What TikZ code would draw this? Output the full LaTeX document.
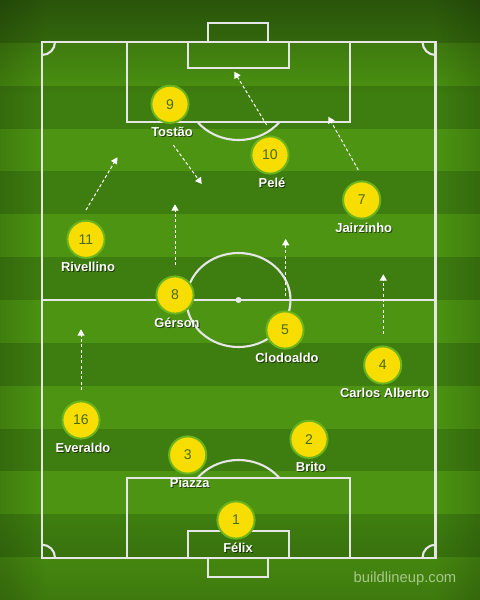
\documentclass[tikz,border=0pt]{standalone}
\usepackage{fontspec}
\setmainfont{Liberation Sans}
\usetikzlibrary{arrows.meta,fadings}

\definecolor{stripedark}{HTML}{3E7D10}
\definecolor{stripelight}{HTML}{4C9412}
\definecolor{pitchline}{HTML}{E6E6E6}
\definecolor{shirt}{HTML}{F7DE00}
\definecolor{shirtrim}{HTML}{6CB41E}
\definecolor{shirtnum}{HTML}{4A6A0A}
\definecolor{mark}{HTML}{A8C888}

\tikzset{
	pitch/.style={draw=pitchline, line width=1.5pt},
	player/.style={circle, fill=shirt, draw=shirtrim, line width=1.4pt,
		minimum size=0.93cm, inner sep=0pt, text=shirtnum, font=\fontsize{10}{10}\selectfont},
	pname/.style={text=white, font=\bfseries\fontsize{9.2}{10}\selectfont, inner sep=0pt},
	pshade/.style={text=black, opacity=0.55, font=\bfseries\fontsize{9.2}{10}\selectfont, inner sep=0pt},
	run/.style={draw=white, line width=0.7pt, dash pattern=on 2.2pt off 1.6pt,
		-{Triangle[width=5pt,length=4.5pt]}}
}

\begin{document}
\begin{tikzpicture}[x=0.025cm,y=-0.025cm]
			\useasboundingbox (0,0) rectangle (480,600);
			% grass
			\foreach \i in {0,...,13} {
				\pgfmathtruncatemacro{\odd}{mod(\i,2)}
				\ifnum\odd=0 \def\band{stripedark}\else \def\band{stripelight}\fi
				\fill[\band] (0,{\i*600/14}) rectangle (480,{(\i+1)*600/14});
			}
			% darker edges
			\fill[black, opacity=0.32, path fading=south] (0,0) rectangle (480,95);
			\fill[black, opacity=0.18, path fading=north] (0,520) rectangle (480,600);
			\fill[black, opacity=0.15, path fading=east] (0,0) rectangle (45,600);
			\fill[black, opacity=0.15, path fading=west] (435,0) rectangle (480,600);

			% lines
			\draw[pitch] (42,42) rectangle (435.5,557.7);
			\draw[pitch] (42,300) -- (435.5,300);
			\draw[pitch] (238.5,300) ellipse [x radius=52, y radius=47];
			\fill[pitchline] (238.5,300) circle [radius=3];
			\draw[pitch] (126.7,42) rectangle (350,121.7);
			\draw[pitch] (187.7,42) rectangle (289.3,68);
			\draw[pitch] (208,22.7) rectangle (268,42);
			\draw[pitch] (126.7,477.7) rectangle (350,557.7);
			\draw[pitch] (187.7,531) rectangle (289.3,557.7);
			\draw[pitch] (208,557.7) rectangle (268,576.7);
			\begin{scope}
				\clip (0,121.7) rectangle (480,300);
				\draw[pitch] (238.5,93) ellipse [x radius=52, y radius=47];
			\end{scope}
			\begin{scope}
				\clip (0,300) rectangle (480,477.7);
				\draw[pitch] (238.5,507) ellipse [x radius=52, y radius=47];
			\end{scope}
			\begin{scope}
				\clip (42,42) rectangle (435.5,557.7);
				\foreach \cx/\cy in {42/42,435.5/42,42/557.7,435.5/557.7}
					\draw[pitch] (\cx,\cy) circle [radius=13];
			\end{scope}

			% runs
			\coordinate (a9) at (173.3,145);   \coordinate (b9) at (201.7,184);
			\coordinate (a10) at (266.7,125);  \coordinate (b10) at (234.3,71.7);
			\coordinate (a7) at (358.3,170);   \coordinate (b7) at (328.3,116.7);
			\coordinate (a11) at (86,210);     \coordinate (b11) at (117.3,157.3);
			\coordinate (a8) at (175,265);     \coordinate (b8) at (175,204.3);
			\coordinate (a5) at (285.7,296);   \coordinate (b5) at (285.7,239);
			\coordinate (a4) at (383.3,334);   \coordinate (b4) at (383.3,274.3);
			\coordinate (a16) at (81,390);     \coordinate (b16) at (81,329.3);
			\foreach \r in {9,10,7,11,8,5,4,16}
				\draw[run] (a\r) -- (b\r);

			% players
			\foreach \n/\x/\y/\who in {9/170/104.3/Tostão, 10/270/155/Pelé, 7/361.7/200/Jairzinho,
				11/86/239.3/Rivellino, 8/175/295/Gérson, 5/285/330/Clodoaldo,
				4/382.7/365/Carlos Alberto, 16/81/420/Everaldo, 2/309/439.3/Brito,
				3/187.7/455/Piazza, 1/236/520/Félix} {
				\node[player] (p\n) at (\x,\y) {\n};
				\node[pshade] at (\x+2.9,\y+28.4) {\who};
				\node[pname] (n\n) at (\x+2,\y+27.5) {\who};
			}

			\node[text=mark, font=\fontsize{10.5}{12}\selectfont] (site) at (405,579) {buildlineup.com};
\end{tikzpicture}
\end{document}
